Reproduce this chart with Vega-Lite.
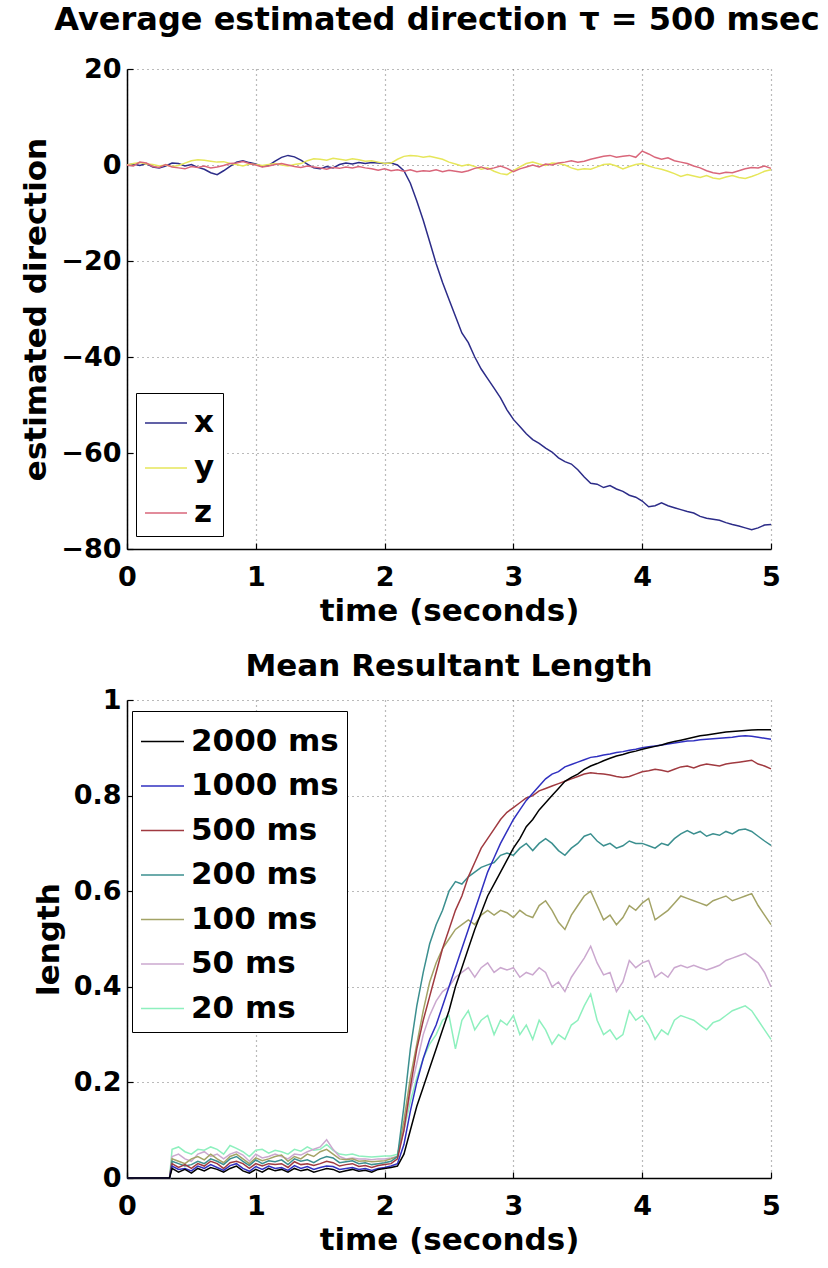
{
  "$schema": "https://vega.github.io/schema/vega-lite/v6.json",
  "background": "white",
  "padding": {"left": 20, "top": 4, "right": 4, "bottom": 4},
  "spacing": 25,
  "resolve": {"scale": {"color": "independent"}, "legend": {"color": "independent"}},
  "config": {
    "font": "DejaVu Sans",
    "view": {"stroke": null},
    "axis": {
      "labelFont": "DejaVu Sans", "labelFontWeight": "bold", "labelFontSize": 27, "labelColor": "black",
      "titleFont": "DejaVu Sans", "titleFontWeight": "bold", "titleFontSize": 31, "titleColor": "black",
      "domainColor": "black", "domainWidth": 1.5, "tickColor": "black", "tickWidth": 1.2, "tickSize": -6,
      "gridColor": "#666666", "gridDash": [1, 4], "gridWidth": 1.2, "gridOpacity": 0.9,
      "labelOverlap": false, "labelFlush": false, "labelBound": false
    },
    "title": {"font": "DejaVu Sans", "fontWeight": "bold", "color": "black", "frame": "group"}
  },
  "vconcat": [
    {
      "title": {"text": "Average estimated direction τ = 500 msec", "fontSize": 32, "offset": 18, "dx": -12},
      "width": 644, "height": 480,
      "data": {"values": [
        {"t":0.00,"x":0,"y":0,"z":0},{"t":0.05,"x":0.2,"y":0.3,"z":-0.2},{"t":0.10,"x":-0.1,"y":0.5,"z":0.6},{"t":0.15,"x":0.3,"y":0.2,"z":0.4},
        {"t":0.20,"x":-0.4,"y":0.1,"z":-0.3},{"t":0.25,"x":-0.6,"y":-0.2,"z":-0.5},{"t":0.30,"x":-0.2,"y":0.0,"z":0.1},{"t":0.35,"x":0.4,"y":-0.3,"z":-0.4},
        {"t":0.40,"x":0.3,"y":-0.1,"z":-0.6},{"t":0.45,"x":-0.2,"y":0.4,"z":-0.8},{"t":0.50,"x":0.1,"y":0.9,"z":-0.3},{"t":0.55,"x":-0.5,"y":1.1,"z":-0.5},
        {"t":0.60,"x":-0.9,"y":1.0,"z":-0.2},{"t":0.65,"x":-1.6,"y":0.8,"z":-0.6},{"t":0.70,"x":-2.0,"y":0.6,"z":-0.4},{"t":0.75,"x":-1.2,"y":0.7,"z":-0.1},
        {"t":0.80,"x":-0.3,"y":0.3,"z":0.3},{"t":0.85,"x":0.6,"y":0.1,"z":0.4},{"t":0.90,"x":0.9,"y":-0.2,"z":0.7},{"t":0.95,"x":0.5,"y":0.2,"z":0.3},
        {"t":1.00,"x":0.2,"y":0.1,"z":0.0},{"t":1.05,"x":-0.3,"y":-0.1,"z":-0.4},{"t":1.10,"x":-0.1,"y":0.1,"z":-0.2},{"t":1.15,"x":0.8,"y":0.3,"z":0.1},
        {"t":1.20,"x":1.6,"y":0.0,"z":0.3},{"t":1.25,"x":2.0,"y":-0.2,"z":0.0},{"t":1.30,"x":1.7,"y":0.1,"z":-0.3},{"t":1.35,"x":1.0,"y":0.3,"z":-0.5},
        {"t":1.40,"x":0.2,"y":0.9,"z":-0.2},{"t":1.45,"x":-0.6,"y":1.3,"z":-0.4},{"t":1.50,"x":-0.8,"y":1.2,"z":-0.6},{"t":1.55,"x":-0.3,"y":1.0,"z":-0.9},
        {"t":1.60,"x":-0.6,"y":1.4,"z":-0.5},{"t":1.65,"x":0.1,"y":1.2,"z":-0.7},{"t":1.70,"x":0.4,"y":1.0,"z":-0.4},{"t":1.75,"x":0.2,"y":1.3,"z":-0.6},
        {"t":1.80,"x":0.5,"y":1.1,"z":-0.3},{"t":1.85,"x":0.3,"y":0.8,"z":-0.6},{"t":1.90,"x":0.5,"y":0.9,"z":-0.8},{"t":1.95,"x":0.4,"y":0.6,"z":-1.1},
        {"t":2.00,"x":0.3,"y":0.3,"z":-0.8},{"t":2.05,"x":0.4,"y":0.4,"z":-1.2},{"t":2.10,"x":0.0,"y":1.2,"z":-1.0},{"t":2.15,"x":-1.2,"y":1.8,"z":-1.3},
        {"t":2.20,"x":-3.8,"y":2.0,"z":-1.0},{"t":2.25,"x":-7.5,"y":1.9,"z":-1.4},{"t":2.30,"x":-11.5,"y":1.6,"z":-1.2},{"t":2.35,"x":-16.0,"y":1.8,"z":-1.3},
        {"t":2.40,"x":-20.5,"y":1.5,"z":-1.0},{"t":2.45,"x":-24.5,"y":1.2,"z":-1.4},{"t":2.50,"x":-28.0,"y":0.6,"z":-1.1},{"t":2.55,"x":-31.5,"y":0.2,"z":-1.3},
        {"t":2.60,"x":-35.0,"y":-0.2,"z":-1.5},{"t":2.65,"x":-37.0,"y":0.1,"z":-1.2},{"t":2.70,"x":-40.0,"y":-0.3,"z":-0.7},{"t":2.75,"x":-42.5,"y":-0.9,"z":-0.4},
        {"t":2.80,"x":-44.5,"y":-0.6,"z":-0.9},{"t":2.85,"x":-46.5,"y":-1.3,"z":-0.6},{"t":2.90,"x":-48.5,"y":-1.8,"z":-0.2},{"t":2.95,"x":-51.0,"y":-2.0,"z":-0.7},
        {"t":3.00,"x":-53.0,"y":-1.2,"z":-1.4},{"t":3.05,"x":-54.5,"y":-0.4,"z":-0.8},{"t":3.10,"x":-56.0,"y":0.3,"z":-0.4},{"t":3.15,"x":-57.2,"y":0.6,"z":0.0},
        {"t":3.20,"x":-58.0,"y":0.2,"z":-0.4},{"t":3.25,"x":-59.0,"y":-0.1,"z":0.2},{"t":3.30,"x":-59.8,"y":0.4,"z":0.0},{"t":3.35,"x":-61.0,"y":0.3,"z":0.4},
        {"t":3.40,"x":-61.8,"y":0.0,"z":0.6},{"t":3.45,"x":-62.3,"y":-0.6,"z":0.9},{"t":3.50,"x":-63.5,"y":-1.0,"z":0.6},{"t":3.55,"x":-65.0,"y":-0.8,"z":0.8},
        {"t":3.60,"x":-66.3,"y":-0.9,"z":1.2},{"t":3.65,"x":-66.5,"y":-0.4,"z":1.5},{"t":3.70,"x":-67.2,"y":0.1,"z":1.8},{"t":3.75,"x":-66.8,"y":0.2,"z":2.0},
        {"t":3.80,"x":-67.5,"y":-0.2,"z":1.6},{"t":3.85,"x":-68.0,"y":-0.8,"z":1.8},{"t":3.90,"x":-68.8,"y":-0.3,"z":2.0},{"t":3.95,"x":-69.2,"y":0.1,"z":1.6},
        {"t":4.00,"x":-70.0,"y":0.3,"z":2.9},{"t":4.05,"x":-71.2,"y":-0.2,"z":2.3},{"t":4.10,"x":-71.0,"y":-0.6,"z":1.6},{"t":4.15,"x":-70.4,"y":-0.9,"z":1.2},
        {"t":4.20,"x":-71.0,"y":-1.3,"z":1.5},{"t":4.25,"x":-71.4,"y":-1.8,"z":0.9},{"t":4.30,"x":-71.8,"y":-2.4,"z":0.6},{"t":4.35,"x":-72.2,"y":-2.0,"z":0.3},
        {"t":4.40,"x":-72.5,"y":-2.3,"z":-0.2},{"t":4.45,"x":-73.2,"y":-2.6,"z":-0.6},{"t":4.50,"x":-73.6,"y":-2.2,"z":-1.2},{"t":4.55,"x":-73.8,"y":-2.7,"z":-1.6},
        {"t":4.60,"x":-74.0,"y":-2.9,"z":-1.8},{"t":4.65,"x":-74.5,"y":-2.5,"z":-1.5},{"t":4.70,"x":-74.9,"y":-2.2,"z":-1.6},{"t":4.75,"x":-75.2,"y":-2.6,"z":-1.2},
        {"t":4.80,"x":-75.6,"y":-2.8,"z":-0.8},{"t":4.85,"x":-76.0,"y":-2.4,"z":-0.5},{"t":4.90,"x":-75.6,"y":-1.9,"z":-0.6},{"t":4.95,"x":-75.0,"y":-1.3,"z":-0.2},
        {"t":5.00,"x":-74.9,"y":-1.0,"z":-0.7}
      ]},
      "transform": [{"fold": ["x", "y", "z"], "as": ["series", "value"]}],
      "mark": {"type": "line", "strokeWidth": 1.5},
      "encoding": {
        "x": {"field": "t", "type": "quantitative", "scale": {"domain": [0, 5], "nice": false},
              "axis": {"title": "time (seconds)", "values": [0, 1, 2, 3, 4, 5], "format": "d", "labelPadding": 21, "titlePadding": 6}},
        "y": {"field": "value", "type": "quantitative", "scale": {"domain": [-80, 20], "nice": false},
              "axis": {"title": "estimated direction", "values": [-80, -60, -40, -20, 0, 20], "format": "d", "labelPadding": 12, "titlePadding": 8}},
        "color": {"field": "series", "type": "nominal",
                  "scale": {"domain": ["x", "y", "z"], "range": ["#2c2c88", "#e6e65a", "#d9667a"]},
                  "legend": {"title": null, "orient": "none", "legendX": 9, "legendY": 324, "symbolType": "stroke", "symbolSize": 1764,
                             "symbolStrokeWidth": 1.5, "labelFontSize": 31, "labelFontWeight": "bold", "labelFont": "DejaVu Sans",
                             "labelColor": "black", "rowPadding": 8, "padding": 8, "fillColor": "white", "strokeColor": "black",
                             "labelOffset": 6}}
      }
    },
    {
      "title": {"text": "Mean Resultant Length", "fontSize": 31, "offset": 3},
      "width": 644, "height": 478,
      "data": {"values": [
        {"t":0,"a":0,"b":0,"c":0,"d":0,"e":0,"f":0,"g":0},
        {"t":0.33,"a":0,"b":0,"c":0,"d":0,"e":0,"f":0,"g":0},
        {"t":0.35,"a":0.02,"b":0.025,"c":0.03,"d":0.035,"e":0.04,"f":0.045,"g":0.06},
        {"t":0.40,"a":0.012,"b":0.018,"c":0.022,"d":0.03,"e":0.035,"f":0.05,"g":0.065},
        {"t":0.45,"a":0.018,"b":0.02,"c":0.028,"d":0.025,"e":0.03,"f":0.04,"g":0.055},
        {"t":0.50,"a":0.01,"b":0.015,"c":0.02,"d":0.028,"e":0.04,"f":0.035,"g":0.05},
        {"t":0.55,"a":0.02,"b":0.025,"c":0.03,"d":0.035,"e":0.045,"f":0.05,"g":0.06},
        {"t":0.60,"a":0.015,"b":0.02,"c":0.025,"d":0.03,"e":0.038,"f":0.055,"g":0.058},
        {"t":0.65,"a":0.022,"b":0.028,"c":0.035,"d":0.04,"e":0.05,"f":0.045,"g":0.065},
        {"t":0.70,"a":0.018,"b":0.022,"c":0.03,"d":0.035,"e":0.04,"f":0.05,"g":0.06},
        {"t":0.75,"a":0.012,"b":0.016,"c":0.02,"d":0.028,"e":0.032,"f":0.04,"g":0.05},
        {"t":0.80,"a":0.02,"b":0.026,"c":0.032,"d":0.04,"e":0.045,"f":0.05,"g":0.068},
        {"t":0.85,"a":0.025,"b":0.03,"c":0.035,"d":0.045,"e":0.05,"f":0.055,"g":0.062},
        {"t":0.90,"a":0.015,"b":0.02,"c":0.03,"d":0.035,"e":0.04,"f":0.048,"g":0.055},
        {"t":0.95,"a":0.01,"b":0.014,"c":0.02,"d":0.026,"e":0.03,"f":0.035,"g":0.045},
        {"t":1.00,"a":0.018,"b":0.024,"c":0.03,"d":0.038,"e":0.042,"f":0.05,"g":0.058},
        {"t":1.05,"a":0.012,"b":0.018,"c":0.025,"d":0.03,"e":0.036,"f":0.042,"g":0.06},
        {"t":1.10,"a":0.02,"b":0.025,"c":0.03,"d":0.036,"e":0.04,"f":0.045,"g":0.052},
        {"t":1.15,"a":0.015,"b":0.02,"c":0.028,"d":0.034,"e":0.045,"f":0.05,"g":0.058},
        {"t":1.20,"a":0.018,"b":0.022,"c":0.03,"d":0.038,"e":0.048,"f":0.045,"g":0.055},
        {"t":1.25,"a":0.012,"b":0.016,"c":0.022,"d":0.028,"e":0.035,"f":0.04,"g":0.05},
        {"t":1.30,"a":0.02,"b":0.026,"c":0.034,"d":0.04,"e":0.045,"f":0.05,"g":0.06},
        {"t":1.35,"a":0.015,"b":0.02,"c":0.028,"d":0.035,"e":0.04,"f":0.048,"g":0.056},
        {"t":1.40,"a":0.018,"b":0.024,"c":0.03,"d":0.038,"e":0.05,"f":0.055,"g":0.065},
        {"t":1.45,"a":0.012,"b":0.018,"c":0.026,"d":0.032,"e":0.045,"f":0.06,"g":0.058},
        {"t":1.50,"a":0.016,"b":0.022,"c":0.03,"d":0.04,"e":0.055,"f":0.065,"g":0.06},
        {"t":1.55,"a":0.02,"b":0.025,"c":0.035,"d":0.045,"e":0.06,"f":0.08,"g":0.07},
        {"t":1.60,"a":0.018,"b":0.024,"c":0.032,"d":0.042,"e":0.05,"f":0.06,"g":0.058},
        {"t":1.65,"a":0.012,"b":0.018,"c":0.025,"d":0.032,"e":0.04,"f":0.045,"g":0.05},
        {"t":1.70,"a":0.015,"b":0.02,"c":0.028,"d":0.034,"e":0.038,"f":0.04,"g":0.048},
        {"t":1.75,"a":0.018,"b":0.022,"c":0.03,"d":0.036,"e":0.04,"f":0.042,"g":0.05},
        {"t":1.80,"a":0.014,"b":0.018,"c":0.024,"d":0.03,"e":0.035,"f":0.04,"g":0.046},
        {"t":1.85,"a":0.016,"b":0.02,"c":0.026,"d":0.032,"e":0.036,"f":0.04,"g":0.045},
        {"t":1.90,"a":0.012,"b":0.016,"c":0.022,"d":0.028,"e":0.034,"f":0.038,"g":0.044},
        {"t":1.95,"a":0.018,"b":0.02,"c":0.026,"d":0.03,"e":0.035,"f":0.04,"g":0.045},
        {"t":2.00,"a":0.02,"b":0.022,"c":0.028,"d":0.032,"e":0.036,"f":0.04,"g":0.046},
        {"t":2.05,"a":0.022,"b":0.025,"c":0.03,"d":0.035,"e":0.04,"f":0.042,"g":0.046},
        {"t":2.10,"a":0.025,"b":0.03,"c":0.04,"d":0.045,"e":0.045,"f":0.045,"g":0.05},
        {"t":2.15,"a":0.05,"b":0.07,"c":0.10,"d":0.15,"e":0.12,"f":0.10,"g":0.10},
        {"t":2.20,"a":0.10,"b":0.14,"c":0.19,"d":0.27,"e":0.21,"f":0.18,"g":0.16},
        {"t":2.25,"a":0.15,"b":0.20,"c":0.27,"d":0.36,"e":0.28,"f":0.24,"g":0.21},
        {"t":2.30,"a":0.19,"b":0.25,"c":0.33,"d":0.43,"e":0.35,"f":0.30,"g":0.25},
        {"t":2.35,"a":0.23,"b":0.29,"c":0.38,"d":0.49,"e":0.41,"f":0.34,"g":0.28},
        {"t":2.40,"a":0.27,"b":0.32,"c":0.43,"d":0.53,"e":0.45,"f":0.37,"g":0.30},
        {"t":2.45,"a":0.31,"b":0.36,"c":0.48,"d":0.56,"e":0.48,"f":0.39,"g":0.33},
        {"t":2.50,"a":0.35,"b":0.40,"c":0.52,"d":0.60,"e":0.50,"f":0.40,"g":0.34},
        {"t":2.55,"a":0.40,"b":0.44,"c":0.56,"d":0.62,"e":0.52,"f":0.42,"g":0.27},
        {"t":2.60,"a":0.44,"b":0.48,"c":0.59,"d":0.615,"e":0.53,"f":0.43,"g":0.33},
        {"t":2.65,"a":0.48,"b":0.52,"c":0.63,"d":0.63,"e":0.54,"f":0.44,"g":0.35},
        {"t":2.70,"a":0.52,"b":0.56,"c":0.66,"d":0.64,"e":0.53,"f":0.42,"g":0.31},
        {"t":2.75,"a":0.555,"b":0.60,"c":0.69,"d":0.65,"e":0.55,"f":0.44,"g":0.33},
        {"t":2.80,"a":0.59,"b":0.64,"c":0.71,"d":0.655,"e":0.56,"f":0.45,"g":0.34},
        {"t":2.85,"a":0.615,"b":0.67,"c":0.73,"d":0.66,"e":0.55,"f":0.43,"g":0.30},
        {"t":2.90,"a":0.64,"b":0.70,"c":0.75,"d":0.675,"e":0.56,"f":0.44,"g":0.33},
        {"t":2.95,"a":0.665,"b":0.725,"c":0.765,"d":0.68,"e":0.555,"f":0.435,"g":0.32},
        {"t":3.00,"a":0.69,"b":0.75,"c":0.775,"d":0.675,"e":0.545,"f":0.44,"g":0.34},
        {"t":3.05,"a":0.71,"b":0.77,"c":0.785,"d":0.69,"e":0.56,"f":0.42,"g":0.30},
        {"t":3.10,"a":0.735,"b":0.79,"c":0.795,"d":0.70,"e":0.55,"f":0.43,"g":0.32},
        {"t":3.15,"a":0.75,"b":0.805,"c":0.80,"d":0.685,"e":0.545,"f":0.425,"g":0.29},
        {"t":3.20,"a":0.77,"b":0.82,"c":0.81,"d":0.70,"e":0.57,"f":0.44,"g":0.33},
        {"t":3.25,"a":0.785,"b":0.835,"c":0.815,"d":0.71,"e":0.58,"f":0.43,"g":0.31},
        {"t":3.30,"a":0.80,"b":0.845,"c":0.82,"d":0.70,"e":0.56,"f":0.40,"g":0.28},
        {"t":3.35,"a":0.815,"b":0.85,"c":0.825,"d":0.685,"e":0.535,"f":0.41,"g":0.30},
        {"t":3.40,"a":0.83,"b":0.86,"c":0.83,"d":0.675,"e":0.52,"f":0.39,"g":0.29},
        {"t":3.45,"a":0.838,"b":0.865,"c":0.835,"d":0.69,"e":0.55,"f":0.42,"g":0.32},
        {"t":3.50,"a":0.845,"b":0.87,"c":0.84,"d":0.70,"e":0.57,"f":0.44,"g":0.33},
        {"t":3.55,"a":0.855,"b":0.875,"c":0.845,"d":0.715,"e":0.59,"f":0.46,"g":0.36},
        {"t":3.60,"a":0.862,"b":0.88,"c":0.848,"d":0.72,"e":0.60,"f":0.485,"g":0.385},
        {"t":3.65,"a":0.867,"b":0.882,"c":0.846,"d":0.705,"e":0.57,"f":0.45,"g":0.33},
        {"t":3.70,"a":0.873,"b":0.885,"c":0.845,"d":0.695,"e":0.54,"f":0.425,"g":0.30},
        {"t":3.75,"a":0.878,"b":0.887,"c":0.843,"d":0.70,"e":0.55,"f":0.43,"g":0.31},
        {"t":3.80,"a":0.883,"b":0.89,"c":0.84,"d":0.69,"e":0.53,"f":0.39,"g":0.29},
        {"t":3.85,"a":0.886,"b":0.892,"c":0.838,"d":0.695,"e":0.545,"f":0.41,"g":0.30},
        {"t":3.90,"a":0.89,"b":0.895,"c":0.84,"d":0.705,"e":0.57,"f":0.455,"g":0.35},
        {"t":3.95,"a":0.893,"b":0.897,"c":0.845,"d":0.70,"e":0.56,"f":0.44,"g":0.33},
        {"t":4.00,"a":0.897,"b":0.90,"c":0.85,"d":0.70,"e":0.575,"f":0.45,"g":0.34},
        {"t":4.05,"a":0.90,"b":0.902,"c":0.852,"d":0.695,"e":0.585,"f":0.455,"g":0.32},
        {"t":4.10,"a":0.903,"b":0.904,"c":0.855,"d":0.69,"e":0.54,"f":0.42,"g":0.29},
        {"t":4.15,"a":0.906,"b":0.906,"c":0.853,"d":0.70,"e":0.55,"f":0.43,"g":0.31},
        {"t":4.20,"a":0.91,"b":0.908,"c":0.85,"d":0.696,"e":0.56,"f":0.42,"g":0.30},
        {"t":4.25,"a":0.913,"b":0.91,"c":0.855,"d":0.71,"e":0.575,"f":0.44,"g":0.33},
        {"t":4.30,"a":0.916,"b":0.912,"c":0.86,"d":0.72,"e":0.59,"f":0.445,"g":0.34},
        {"t":4.35,"a":0.919,"b":0.914,"c":0.862,"d":0.727,"e":0.585,"f":0.44,"g":0.335},
        {"t":4.40,"a":0.922,"b":0.915,"c":0.858,"d":0.72,"e":0.58,"f":0.445,"g":0.33},
        {"t":4.45,"a":0.925,"b":0.917,"c":0.863,"d":0.725,"e":0.575,"f":0.44,"g":0.32},
        {"t":4.50,"a":0.927,"b":0.918,"c":0.866,"d":0.715,"e":0.57,"f":0.435,"g":0.31},
        {"t":4.55,"a":0.929,"b":0.919,"c":0.864,"d":0.72,"e":0.58,"f":0.44,"g":0.325},
        {"t":4.60,"a":0.931,"b":0.92,"c":0.862,"d":0.717,"e":0.585,"f":0.445,"g":0.33},
        {"t":4.65,"a":0.933,"b":0.921,"c":0.866,"d":0.725,"e":0.59,"f":0.455,"g":0.34},
        {"t":4.70,"a":0.934,"b":0.922,"c":0.868,"d":0.72,"e":0.58,"f":0.46,"g":0.35},
        {"t":4.75,"a":0.935,"b":0.924,"c":0.87,"d":0.728,"e":0.585,"f":0.465,"g":0.355},
        {"t":4.80,"a":0.936,"b":0.925,"c":0.872,"d":0.73,"e":0.59,"f":0.47,"g":0.36},
        {"t":4.85,"a":0.937,"b":0.924,"c":0.874,"d":0.725,"e":0.595,"f":0.46,"g":0.35},
        {"t":4.90,"a":0.938,"b":0.922,"c":0.866,"d":0.715,"e":0.57,"f":0.45,"g":0.33},
        {"t":4.95,"a":0.938,"b":0.92,"c":0.862,"d":0.705,"e":0.55,"f":0.43,"g":0.31},
        {"t":5.00,"a":0.938,"b":0.918,"c":0.856,"d":0.696,"e":0.53,"f":0.40,"g":0.29}
      ]},
      "transform": [{"fold": ["g", "f", "e", "d", "c", "b", "a"], "as": ["key", "value"]}],
      "mark": {"type": "line", "strokeWidth": 1.5},
      "encoding": {
        "x": {"field": "t", "type": "quantitative", "scale": {"domain": [0, 5], "nice": false},
              "axis": {"title": "time (seconds)", "values": [0, 1, 2, 3, 4, 5], "format": "d", "labelPadding": 21, "titlePadding": 6}},
        "y": {"field": "value", "type": "quantitative", "scale": {"domain": [0, 1], "nice": false},
              "axis": {"title": "length", "values": [0, 0.2, 0.4, 0.6, 0.8, 1], "labelExpr": "datum.value == 0 || datum.value == 1 ? format(datum.value, 'd') : format(datum.value, '.1f')", "labelPadding": 12, "titlePadding": 8}},
        "color": {"field": "key", "type": "nominal",
                  "scale": {"domain": ["a", "b", "c", "d", "e", "f", "g"],
                            "range": ["#000000", "#3030c0", "#a03a40", "#3b8f8f", "#a3a366", "#cba8cf", "#8ef0be"]},
                  "legend": {"title": null, "orient": "none", "legendX": 5, "legendY": 11, "symbolType": "stroke", "symbolSize": 1849,
                             "symbolStrokeWidth": 1.5, "labelFontSize": 31, "labelFontWeight": "bold", "labelFont": "DejaVu Sans",
                             "labelColor": "black", "rowPadding": 6.5, "padding": 8, "fillColor": "white", "strokeColor": "black",
                             "labelOffset": 6,
                             "labelExpr": "{'a':'2000 ms','b':'1000 ms','c':'500 ms','d':'200 ms','e':'100 ms','f':'50 ms','g':'20 ms'}[datum.label]"}}
      }
    }
  ]
}
